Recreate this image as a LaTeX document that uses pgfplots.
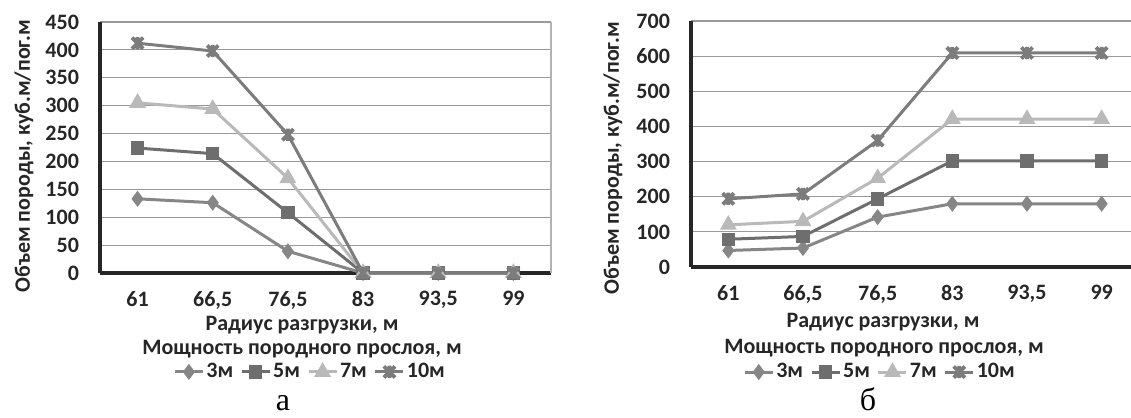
\documentclass[border=0pt]{standalone}
\usepackage{pgfplots}
\pgfplotsset{compat=1.18}
\usepackage{fontspec}
\setmainfont{Carlito}
\newfontfamily\seriffont{Liberation Serif}
\definecolor{cA}{HTML}{868686}
\definecolor{cB}{HTML}{6E6E6E}
\definecolor{cC}{HTML}{B9B9B9}
\definecolor{cD}{HTML}{7C7C7C}
\definecolor{txt}{HTML}{262626}
\pgfdeclareplotmark{xstar}{%
  \pgfpathmoveto{\pgfqpoint{-\pgfplotmarksize}{-\pgfplotmarksize}}%
  \pgfpathlineto{\pgfqpoint{\pgfplotmarksize}{\pgfplotmarksize}}%
  \pgfpathmoveto{\pgfqpoint{-\pgfplotmarksize}{\pgfplotmarksize}}%
  \pgfpathlineto{\pgfqpoint{\pgfplotmarksize}{-\pgfplotmarksize}}%
  \pgfpathmoveto{\pgfqpoint{0pt}{-1.1\pgfplotmarksize}}%
  \pgfpathlineto{\pgfqpoint{0pt}{1.1\pgfplotmarksize}}%
  \pgfusepathqstroke}
\pgfplotsset{
  mychart/.style={
    scale only axis,
    anchor=south west,
    axis lines=left,
    axis line style={-, line width=1.6pt, color=txt},
    xmin=-0.5, xmax=5.5, ymin=0,
    xtick={0,1,2,3,4,5},
    xticklabels={61,{66,5},{76,5},83,{93,5},99},
    major tick length=0pt,
    ymajorgrids,
    major grid style={color=black!40, line width=0.6pt},
    clip=false,
    /pgf/number format/assume math mode=true,
    ticklabel style={font=\bfseries\fontsize{11}{13}\selectfont, text=txt},
    yticklabel style={xshift=-7pt},
    xticklabel style={yshift=-5.5pt},
    legend columns=4,
    legend style={draw=none, fill=none, anchor=center,
      font=\bfseries\fontsize{11}{13}\selectfont, text=txt,
      /tikz/every even column/.append style={column sep=2.5pt},
      nodes={inner xsep=1pt, inner ysep=1pt}},
    legend image code/.code={\draw[##1, mark repeat=2, mark phase=2] plot coordinates {(0pt,0pt) (7pt,0pt) (14pt,0pt)};},
  },
  sA/.style={color=cA, line width=1.5pt, mark=diamond*, mark size=2.8pt, mark options={solid, fill=cA}},
  sB/.style={color=cB, line width=1.5pt, mark=square*, mark size=2.6pt, mark options={solid, fill=cB}},
  sC/.style={color=cC, line width=1.5pt, mark=triangle*, mark size=3.4pt, mark options={solid, fill=cC}},
  sD/.style={color=cD, line width=1.5pt, mark=xstar, mark size=2.8pt, mark options={solid, line width=1.9pt}},
}
\begin{document}
\begin{tikzpicture}[x=0.5pt, y=-0.5pt]
\useasboundingbox (0,0) rectangle (1131,418);
% ---------- left chart (a) ----------
\begin{axis}[mychart,
  at={(50pt,-136.5pt)}, width=225.5pt, height=125.5pt,
  ymax=450, ytick={0,50,...,450},
  extra x ticks={5.5}, extra x tick labels={},
  extra x tick style={grid=major, major grid style={color=black!30, line width=0.6pt}},
  legend style={at={(0.466,-0.394)}},
]
\addplot[sA] coordinates {(0,133) (1,126) (2,39) (3,0) (4,0) (5,0)};
\addplot[sB] coordinates {(0,224) (1,214) (2,108) (3,0) (4,0) (5,0)};
\addplot[sC] coordinates {(0,305) (1,294) (2,170) (3,0) (4,0) (5,0)};
\addplot[sD] coordinates {(0,412) (1,398) (2,248) (3,0) (4,0) (5,0)};
\legend{3м,5м,7м,10м}
\end{axis}
% ---------- right chart (b) ----------
\begin{axis}[mychart,
  at={(345.5pt,-133.5pt)}, width=224pt, height=123pt,
  ymax=700, ytick={0,100,...,700},
  legend style={at={(0.422,-0.427)}},
]
\addplot[sA] coordinates {(0,47) (1,54) (2,142) (3,180) (4,180) (5,180)};
\addplot[sB] coordinates {(0,79) (1,87) (2,194) (3,302) (4,302) (5,302)};
\addplot[sC] coordinates {(0,120) (1,130) (2,253) (3,421) (4,421) (5,421)};
\addplot[sD] coordinates {(0,194) (1,208) (2,360) (3,609) (4,609) (5,609)};
\legend{3м,5м,7м,10м}
\end{axis}
% ---------- axis titles ----------
\begin{scope}[every node/.style={font=\bfseries\fontsize{11}{13}\selectfont, text=txt, inner sep=0pt}]
\node[rotate=90] at (24,156) {Объем породы, куб.м/пог.м};
\node[rotate=90] at (613,158) {Объем породы, куб.м/пог.м};
\node at (302,325) {Радиус разгрузки, м};
\node at (302,349) {Мощность породного прослоя, м};
\node at (883,322) {Радиус разгрузки, м};
\node at (884,348) {Мощность породного прослоя, м};
\end{scope}
\node[font=\seriffont\fontsize{16}{18}\selectfont, anchor=base, inner sep=0pt] at (283,410) {а};
\node[font=\seriffont\fontsize{16}{18}\selectfont, anchor=base, inner sep=0pt] at (868,410) {б};
\end{tikzpicture}
\end{document}
